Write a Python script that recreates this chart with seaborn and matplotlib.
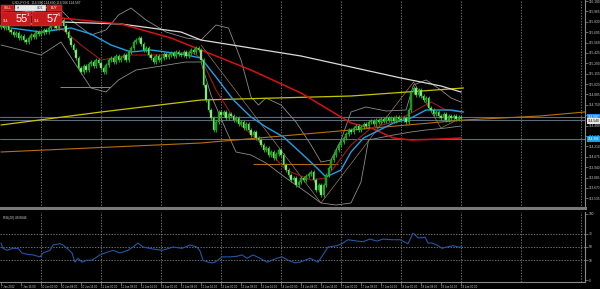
import matplotlib
matplotlib.use("Agg")
import matplotlib.pyplot as plt
import matplotlib.transforms as mtransforms
from matplotlib.patches import Rectangle
import numpy as np
import pandas as pd
import seaborn as sns

# ---------------- data ----------------
CLOSE = [
    115.79, 115.75, 115.80, 115.72, 115.70, 115.66, 115.68, 115.62,
    115.65, 115.59, 115.57, 115.62, 115.66, 115.63, 115.70, 115.67,
    115.68, 115.72, 115.70, 115.75, 115.78, 115.80, 115.75, 115.83,
    115.85, 115.78, 115.70, 115.62, 115.53, 115.46, 115.36, 115.23,
    115.18, 115.26, 115.20, 115.28, 115.31, 115.26, 115.33, 115.29,
    115.23, 115.18, 115.27, 115.33, 115.36, 115.31, 115.39, 115.33,
    115.36, 115.40, 115.33, 115.44, 115.49, 115.57, 115.59, 115.62,
    115.54, 115.46, 115.49, 115.40, 115.36, 115.31, 115.39, 115.33,
    115.36, 115.41, 115.37, 115.40, 115.42, 115.39, 115.44, 115.41,
    115.40, 115.44, 115.39, 115.42, 115.46, 115.44, 115.49, 115.46,
    115.33, 115.01, 114.81, 114.68, 114.58, 114.42, 114.53, 114.66,
    114.62, 114.66, 114.58, 114.63, 114.61, 114.55, 114.58, 114.50,
    114.53, 114.45, 114.50, 114.42, 114.36, 114.40, 114.32, 114.29,
    114.23, 114.16, 114.19, 114.10, 114.14, 114.06, 114.11, 114.16,
    114.10, 113.97, 113.90, 113.84, 113.77, 113.80, 113.71, 113.75,
    113.80, 113.77, 113.82, 113.85, 113.88, 113.77, 113.64, 113.71,
    113.58, 113.71, 113.84, 113.93, 114.03, 114.10, 114.16, 114.23,
    114.27, 114.32, 114.37, 114.42, 114.40, 114.45, 114.48, 114.42,
    114.46, 114.50, 114.48, 114.53, 114.54, 114.50, 114.55, 114.53,
    114.57, 114.54, 114.58, 114.55, 114.58, 114.54, 114.59, 114.57,
    114.55, 114.58, 114.53, 114.68, 114.92, 114.97, 114.88, 114.94,
    114.86, 114.81, 114.84, 114.71, 114.68, 114.63, 114.66, 114.60,
    114.58, 114.63, 114.55, 114.60, 114.58, 114.60, 114.57, 114.59,
    114.58,
]
OPEN0 = 115.76
WICK = 0.025

# indicator lines (bar index, price)
WHITE_X = [0, 24, 48, 72, 80, 100, 120, 140, 160, 176, 184]
WHITE_P = [115.775, 115.827, 115.801, 115.697, 115.593, 115.489, 115.385, 115.242, 115.099, 114.995, 114.917]

RED_X = [0, 20, 48, 68, 80, 100, 120, 140, 148, 157, 164, 176, 184]
RED_P = [115.957, 115.892, 115.801, 115.619, 115.463, 115.203, 114.904, 114.514, 114.449, 114.319, 114.293, 114.306, 114.319]

FRED_X = [12, 24, 32, 40, 52, 64, 76, 80, 86, 93, 106, 114, 124, 130, 140, 148, 157, 164, 172, 178, 184]
FRED_P = [115.658, 115.749, 115.528, 115.333, 115.398, 115.398, 115.437, 115.359, 114.943, 114.579, 114.189,
          113.903, 113.773, 113.799, 114.228, 114.449, 114.527, 114.644, 114.787, 114.683, 114.657]

BLUE_X = [4, 16, 28, 36, 44, 52, 60, 72, 80, 86, 93, 100, 106, 113, 120, 126, 130, 136, 140, 145, 157, 164, 170, 180, 185]
BLUE_P = [115.749, 115.697, 115.749, 115.671, 115.528, 115.437, 115.463, 115.411, 115.359, 115.112, 114.813,
          114.592, 114.462, 114.332, 114.124, 113.942, 113.812, 113.903, 114.137, 114.319, 114.514, 114.579,
          114.683, 114.683, 114.657]

BBU_X = [0, 12, 22, 28, 36, 42, 47, 52, 58, 66, 74, 80, 86, 91, 96, 100, 103, 106, 112, 118, 124, 128, 132, 136,
         140, 146, 154, 162, 165, 170, 176, 180, 184]
BBU_P = [116.009, 115.957, 116.048, 115.853, 115.658, 115.723, 115.918, 116.009, 115.853, 115.697, 115.619,
         115.593, 115.788, 115.749, 115.333, 114.852, 114.748, 114.839, 114.748, 114.527, 114.228, 114.007,
         114.033, 114.293, 114.657, 114.722, 114.670, 114.683, 115.008, 115.073, 114.943, 114.839, 114.787]

BBL_X = [0, 8, 16, 24, 30, 36, 42, 47, 54, 64, 74, 80, 84, 90, 94, 100, 106, 114, 122, 128, 134, 140, 144, 147,
         157, 164, 170, 178, 184]
BBL_P = [115.528, 115.463, 115.398, 115.567, 115.268, 114.969, 114.917, 115.073, 115.203, 115.255, 115.307,
         115.307, 114.878, 114.423, 114.137, 114.098, 113.994, 113.799, 113.617, 113.474, 113.448, 113.474,
         113.747, 114.293, 114.358, 114.397, 114.423, 114.449, 114.475]

YELLOW_X = [0, 40, 80, 140, 185]
YELLOW_P = [114.488, 114.657, 114.813, 114.865, 114.969]

ORANGE_X = [0, 80, 140, 185, 215.6, 233.6]
ORANGE_P = [114.137, 114.254, 114.423, 114.553, 114.605, 114.657]

ZIG_X = [80, 128, 165, 176, 184]
ZIG_P = [115.528, 113.474, 115.047, 114.449, 114.579]

SEG_ORANGE = (100.8, 134.8, 113.981)
SEG_GRAY = (23.6, 43.6, 114.982)
HLINES = [114.592, 114.553, 114.306]

RSI_X = [0, 0.8, 2.4, 4.8, 6.8, 8.4, 10.4, 12.8, 15.6, 16.8, 19.6, 20.8, 23.6, 24.8, 26.4, 28.4, 29.6, 30.8,
         32.4, 34.4, 36.4, 39.6, 42.4, 44.8, 47.6, 50.8, 52.8, 54.8, 56.8, 60.8, 64.4, 66.4, 68.8, 72.4, 75.6,
         78.4, 79.6, 80.8, 82.8, 84.4, 85.6, 88.4, 91.6, 94.4, 96.4, 98.4, 100.8, 103.6, 106.4, 110.4, 112.4,
         114.8, 117.6, 119.6, 123.6, 126.8, 128.8, 130.8, 134.4, 136.4, 138.8, 142.4, 144.8, 147.6, 150.4,
         152.8, 156.4, 159.6, 162.8, 164.8, 166.8, 168.4, 169.6, 170.8, 172.4, 174.4, 176.4, 178.4, 180.8,
         182.8, 184.4]
RSI_V = [56, 48, 45, 48, 48, 41, 39, 38, 35, 41, 45, 53, 55, 53, 48, 41, 27, 33, 27, 30, 30, 38, 42, 45, 41,
         45, 50, 56, 50, 47, 45, 47, 50, 48, 53, 50, 44, 30, 27, 26, 27, 35, 35, 36, 38, 33, 38, 33, 27, 33,
         35, 30, 26, 27, 33, 27, 38, 50, 52, 55, 61, 59, 58, 62, 59, 62, 61, 61, 55, 71, 64, 64, 65, 56, 56,
         53, 48, 50, 52, 50, 50]

DATE_POS = [0, 8, 16, 24, 32, 40, 48, 56, 64, 72, 80, 88, 96, 104, 112, 120, 128, 136, 144, 152, 160, 168, 176, 184]
DATE_LAB = ["7 Jan 2022", "7 Jan 16:00", "10 Jan 00:00", "10 Jan 08:00", "10 Jan 16:00", "11 Jan 00:00",
            "11 Jan 08:00", "11 Jan 16:00", "12 Jan 00:00", "12 Jan 08:00", "12 Jan 16:00", "13 Jan 00:00",
            "13 Jan 08:00", "13 Jan 16:00", "14 Jan 00:00", "14 Jan 08:00", "14 Jan 16:00", "17 Jan 00:00",
            "17 Jan 08:00", "17 Jan 16:00", "18 Jan 00:00", "18 Jan 08:00", "18 Jan 16:00", "19 Jan 00:00"]
GRID_X = [16, 40, 64, 88, 112, 136, 160, 184, 208, 232]

PRICE_TICKS = [116.100, 115.965, 115.830, 115.695, 115.560, 115.425, 115.290, 115.155, 115.020, 114.885,
               114.750, 114.615, 114.480, 114.345, 114.210, 114.075, 113.940, 113.805, 113.670, 113.535]
RSI_TICKS = [0, 30, 50, 70, 100]

# ---------------- figure ----------------
sns.set_theme(style="ticks", rc={"axes.facecolor": "black", "figure.facecolor": "black"})
plt.rcParams["font.family"] = ["Liberation Sans Narrow", "Liberation Sans", "DejaVu Sans"]

W, H = 600, 289
fig = plt.figure(figsize=(6, 2.89), dpi=100, facecolor="black")
ax = fig.add_axes([0, 1 - 208 / H, 585 / W, 208 / H])
ax2 = fig.add_axes([0, 1 - 282 / H, 585 / W, 70 / H])

XLIM = (-0.4, 233.6)
GRAY = "#8a8a8a"
TXT = "#cfcfcf"
FS = 2.3

# candles
df = pd.DataFrame({"close": CLOSE})
df["open"] = df["close"].shift(1).fillna(OPEN0)
df["top"] = df[["open", "close"]].max(axis=1)
df["bot"] = df[["open", "close"]].min(axis=1)
df["x"] = np.arange(len(df))
bull = df["close"] >= df["open"]
ax.vlines(df["x"], df["bot"] - WICK, df["top"] + WICK, color="#28c028", lw=0.6, zorder=4)
hgt = (df["top"] - df["bot"]).clip(lower=0.004)
ax.bar(df["x"][bull], hgt[bull], bottom=df["bot"][bull], width=0.62, color="#15901a",
       edgecolor="#28c028", linewidth=0.3, zorder=5)
ax.bar(df["x"][~bull], hgt[~bull], bottom=df["bot"][~bull], width=0.62, color="#b0eaaa",
       edgecolor="#28c028", linewidth=0.3, zorder=5)

# horizontal lines
for p, c in zip(HLINES, ["#2a7fb0", "#5b6b7a", "#1f82a8"]):
    ax.axhline(p, color=c, lw=0.8, zorder=2)
ax.hlines(SEG_ORANGE[2], SEG_ORANGE[0], SEG_ORANGE[1], color="#b06a10", lw=0.8, zorder=3)
ax.hlines(SEG_GRAY[2], SEG_GRAY[0], SEG_GRAY[1], color="#8a8a70", lw=0.7, zorder=3)

def line(xs, ps, color, lw, z=3):
    sns.lineplot(x=xs, y=ps, ax=ax, color=color, lw=lw, zorder=z, sort=False, estimator=None)

line(BBU_X, BBU_P, "#8c8c8c", 0.6)
line(BBL_X, BBL_P, "#8c8c8c", 0.6)
line(ZIG_X, ZIG_P, "#9a7a5a", 0.5)
line(YELLOW_X, YELLOW_P, "#c8c400", 0.9)
line(ORANGE_X, ORANGE_P, "#b8700f", 0.8)
line(WHITE_X, WHITE_P, "#dcdcdc", 0.9)
line(RED_X, RED_P, "#d81212", 1.1)
line(FRED_X, FRED_P, "#a01818", 0.8)
line(BLUE_X, BLUE_P, "#1ea0e6", 1.0)

for g in GRID_X:
    ax.axvline(g, color="#9a9a9a", lw=0.5, ls=(0, (2, 2)), zorder=1)
    ax2.axvline(g, color="#9a9a9a", lw=0.5, ls=(0, (2, 2)), zorder=1)

ax.set_xlim(*XLIM)
ax.set_ylim(113.409, 116.113)
ax.set_xticks([])
ax.set_xlabel("")
ax.set_ylabel("")
ax.yaxis.tick_right()
ax.set_yticks(PRICE_TICKS)
ax.set_yticklabels([f"{v:.3f}" for v in PRICE_TICKS])
ax.tick_params(axis="y", labelsize=FS, colors=GRAY, labelcolor=TXT, length=2, width=0.5, pad=0.8)
for s in ["left", "top"]:
    ax.spines[s].set_visible(False)
ax.spines["right"].set_color(GRAY)
ax.spines["right"].set_linewidth(0.8)
ax.spines["bottom"].set_color("#7a7a7a")
ax.spines["bottom"].set_linewidth(2.2)

# price highlight boxes
trans = mtransforms.blended_transform_factory(ax.transAxes, ax.transData)
box_kw = dict(transform=trans, fontsize=FS, va="center", ha="left", clip_on=False, zorder=10)
ax.text(1.005, HLINES[0], "114.587", color="white",
        bbox=dict(boxstyle="square,pad=0.2", fc="#1e90ff", ec="none"), **box_kw)
ax.text(1.005, HLINES[1] - 0.012, "114.540", color="black",
        bbox=dict(boxstyle="square,pad=0.2", fc="#e6e6e6", ec="none"), **box_kw)
ax.text(1.005, HLINES[2], "114.306", color="white",
        bbox=dict(boxstyle="square,pad=0.2", fc="#1aa0e0", ec="none"), **box_kw)

# RSI panel
sns.lineplot(x=RSI_X, y=RSI_V, ax=ax2, color="#2457a3", lw=0.8, sort=False, estimator=None, zorder=4)
for lv in [30, 50, 70]:
    ax2.axhline(lv, color="#9a9a9a", lw=0.5, ls=(0, (2, 2)), zorder=1)
ax2.set_xlim(*XLIM)
ax2.set_ylim(-3, 103)
ax2.set_xlabel("")
ax2.set_ylabel("")
ax2.yaxis.tick_right()
ax2.set_yticks(RSI_TICKS)
ax2.set_yticklabels([str(v) for v in RSI_TICKS])
ax2.tick_params(axis="y", labelsize=FS, colors=GRAY, labelcolor=TXT, length=2, width=0.5, pad=0.8)
ax2.set_xticks(DATE_POS)
ax2.set_xticklabels(DATE_LAB, ha="left")
ax2.tick_params(axis="x", labelsize=2.0, colors=GRAY, labelcolor=TXT, length=2, width=0.5, pad=0.4)
for s in ["left", "top"]:
    ax2.spines[s].set_visible(False)
for s in ["right", "bottom"]:
    ax2.spines[s].set_color(GRAY)
    ax2.spines[s].set_linewidth(0.8)
ax2.text(0.005, 0.95, "RSI(20) 49.8846", transform=ax2.transAxes, fontsize=FS, color=TXT, va="top", ha="left")

# overlay: title and one-click trading panel (pixel coordinates)
ov = fig.add_axes([0, 0, 1, 1], facecolor="none")
ov.set_xlim(0, W)
ov.set_ylim(H, 0)
ov.axis("off")
ov.text(12, 2.3, "USDJPY,H1  114.584 114.600 114.566 114.587", fontsize=2.3, color=TXT, va="center", ha="left")
RED = "#c81a1a"
ov.add_patch(Rectangle((1, 5), 13, 6, fc=RED, ec="#e05050", lw=0.3))
ov.add_patch(Rectangle((15, 5), 31, 6, fc="#e8e8e8", ec="#909090", lw=0.3))
ov.add_patch(Rectangle((47, 5), 15, 6, fc=RED, ec="#e05050", lw=0.3))
ov.add_patch(Rectangle((1, 12), 30, 14, fc=RED, ec="#e05050", lw=0.3))
ov.add_patch(Rectangle((32, 12), 30, 14, fc=RED, ec="#e05050", lw=0.3))
ov.text(7.5, 8, "SELL", fontsize=2.3, color="white", ha="center", va="center")
ov.text(54.5, 8, "BUY", fontsize=2.3, color="white", ha="center", va="center")
ov.text(18, 8, "▲", fontsize=2, color="#606060", ha="center", va="center", family="DejaVu Sans")
ov.text(43, 8, "0.01", fontsize=2.3, color="#303030", ha="right", va="center")
ov.text(3, 21, "114.", fontsize=2.3, color="white", ha="left", va="center")
ov.text(34, 21, "114.", fontsize=2.3, color="white", ha="left", va="center")
ov.text(21.5, 19.5, "55", fontsize=8, color="white", ha="center", va="center")
ov.text(28.5, 15, "3", fontsize=3.2, color="white", ha="center", va="center")
ov.text(52.5, 19.5, "57", fontsize=8, color="white", ha="center", va="center")
ov.text(59.5, 15, "5", fontsize=3.2, color="white", ha="center", va="center")

fig.savefig("out.png", dpi=100, facecolor="black")
